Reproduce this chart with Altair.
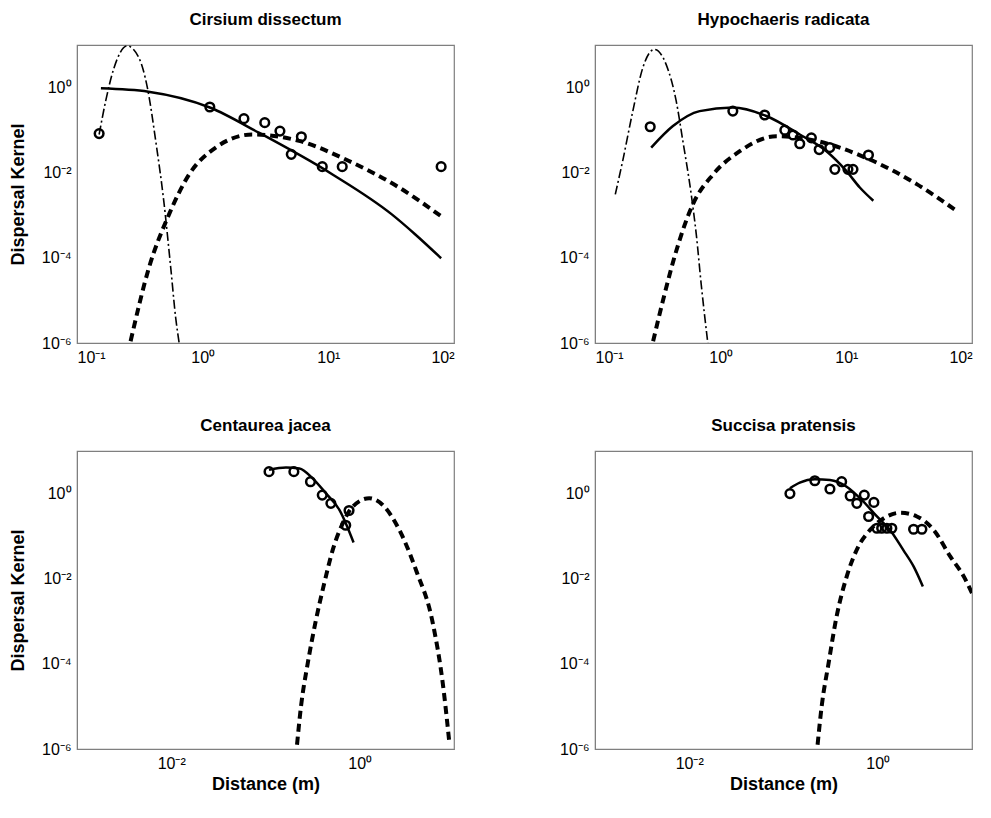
import altair as alt
import pandas as pd

# ---- Cirsium dissectum ----
cd_obs_x = [0.15, 1.14, 2.13, 3.12, 4.12, 6.1, 5.07, 8.95, 12.9, 79]
cd_obs_y = [0.083, 0.35, 0.186, 0.15, 0.095, 0.070, 0.027, 0.0139, 0.0139, 0.0139]
cd_solid_x = [0.155, 0.37, 1.14, 2.8, 10.8, 32, 49.5, 79]
cd_solid_y = [0.96, 0.80, 0.34, 0.087, 0.0091, 0.00105, 3.5e-4, 9.8e-5]
cd_dash_x = [0.267, 0.374, 0.54, 0.78, 1.27, 2.48, 5.85, 14.6, 36.5, 79]
cd_dash_y = [1.1e-6, 5.9e-5, 1.05e-3, 9.1e-3, 0.039, 0.079, 0.056, 0.0188, 0.0045, 9.5e-4]
cd_dd_x = [0.15, 0.169, 0.197, 0.251, 0.311, 0.363, 0.423, 0.49, 0.557, 0.61, 0.65]
cd_dd_y = [0.079, 0.48, 2.9, 9.5, 5.0, 1.0, 0.056, 2.2e-3, 5.9e-5, 3.9e-6, 1e-6]

# ---- Hypochaeris radicata ----
hr_obs_x = [0.275, 1.25, 2.24, 3.24, 3.77, 4.26, 5.27, 6.08, 7.38, 8.1, 10.3, 11.3, 15]
hr_obs_y = [0.12, 0.28, 0.227, 0.10, 0.077, 0.048, 0.066, 0.035, 0.039, 0.012, 0.012, 0.012, 0.026]
hr_solid_x = [0.28, 0.417, 0.68, 1.25, 2.31, 4.26, 6.95, 10, 12.8, 16.4]
hr_solid_y = [0.039, 0.125, 0.28, 0.34, 0.215, 0.079, 0.032, 0.011, 0.0045, 0.0022]
hr_dash_x = [0.29, 0.347, 0.443, 0.60, 0.87, 1.42, 2.77, 5.78, 14.5, 36.3, 75.7]
hr_dash_y = [1.1e-6, 9.8e-6, 1.45e-4, 1.8e-3, 9.1e-3, 0.032, 0.072, 0.056, 0.022, 0.0054, 0.00126]
hr_dd_x = [0.145, 0.166, 0.20, 0.24, 0.297, 0.368, 0.443, 0.50, 0.583, 0.64, 0.70, 0.79]
hr_dd_y = [0.0031, 0.0188, 0.28, 2.9, 7.9, 3.5, 0.48, 0.056, 0.0031, 3.5e-4, 2.4e-5, 1e-6]

# ---- Centaurea jacea ----
cj_obs_x = [0.109, 0.20, 0.30, 0.40, 0.494, 0.77, 0.71]
cj_obs_y = [3.27, 3.27, 1.9, 0.92, 0.59, 0.40, 0.18]
cj_solid_x = [0.109, 0.165, 0.229, 0.316, 0.44, 0.61, 0.86]
cj_solid_y = [3.6, 4.1, 3.9, 2.28, 1.0, 0.41, 0.071]
cj_dash_x = [0.216, 0.238, 0.28, 0.343, 0.42, 0.516, 0.66, 0.84, 1.26, 1.75, 2.63, 3.96, 5.96, 7.6, 8.97]
cj_dash_y = [1.26e-6, 1e-5, 1.0e-4, 1.07e-3, 7.8e-3, 0.047, 0.20, 0.49, 0.78, 0.54, 0.14, 0.0158, 9e-4, 3.5e-5, 1.26e-6]

# ---- Succisa pratensis ----
sp_obs_x = [0.117, 0.215, 0.311, 0.414, 0.51, 0.60, 0.72, 0.91, 0.80, 0.98, 1.10, 1.25, 1.41, 2.40, 2.94]
sp_obs_y = [1.0, 2.0, 1.28, 1.9, 0.88, 0.59, 0.92, 0.62, 0.29, 0.153, 0.153, 0.153, 0.153, 0.145, 0.145]
sp_solid_x = [0.117, 0.149, 0.215, 0.311, 0.468, 0.705, 0.98, 1.35, 1.87, 2.40, 3.01]
sp_solid_y = [1.33, 1.8, 2.16, 2.08, 1.45, 0.645, 0.29, 0.14, 0.047, 0.0195, 0.0066]
sp_dash_x = [0.23, 0.254, 0.30, 0.366, 0.468, 0.62, 0.83, 1.15, 1.73, 2.6, 3.92, 5.9, 8.2, 10]
sp_dash_y = [1.26e-6, 1e-5, 1e-4, 1.3e-3, 0.0112, 0.056, 0.14, 0.26, 0.355, 0.29, 0.14, 0.033, 0.0112, 0.0046]

FONT = "Liberation Sans"
SUP = {"-": "\u207b", "0": "\u2070", "1": "\u00b9", "2": "\u00b2", "3": "\u00b3", "4": "\u2074",
       "5": "\u2075", "6": "\u2076"}


def label_expr(exps):
    e = "''"
    for k in exps:
        s = "10" + "".join(SUP[c] for c in str(k))
        e = f"abs(log(datum.value)/LN10 - ({k})) < 0.01 ? '{s}' : ({e})"
    return e


def frame(x, y, name):
    return pd.DataFrame({"x": x, "y": y, "s": name, "i": range(len(x))})


def panel(title, obs, solid, dash, dd, xdom, xexps, left, bottom):
    parts = [frame(*solid, "solid"), frame(*dash, "dash")]
    if dd:
        parts.append(frame(*dd, "dd"))
    lines = pd.concat(parts)
    pts = frame(*obs, "obs")
    xs = alt.Scale(type="log", domain=xdom)
    ys = alt.Scale(type="log", domain=[1e-6, 10])
    xa = alt.Axis(values=[10.0 ** k for k in xexps], labelExpr=label_expr(xexps), ticks=False,
                  grid=False, title="Distance (m)" if bottom else None, labelPadding=6)
    ya = alt.Axis(values=[1e-6, 1e-4, 1e-2, 1], labelExpr=label_expr([-6, -4, -2, 0]), ticks=False,
                  grid=False, title="Dispersal Kernel" if left else None,
                  minExtent=44, maxExtent=44, labelPadding=6, titlePadding=6)
    X = alt.X("x:Q", scale=xs, axis=xa)
    Y = alt.Y("y:Q", scale=ys, axis=ya)
    layers = []
    styles = {"solid": (2.5, []), "dash": (4, [8, 5]), "dd": (1.6, [9, 3, 2, 3])}
    for name, (w, d) in styles.items():
        sub = lines[lines.s == name]
        if len(sub) == 0:
            continue
        kw = dict(color="black", strokeWidth=w, clip=True, interpolate="monotone")
        if d:
            kw["strokeDash"] = d
        layers.append(alt.Chart(sub).mark_line(**kw).encode(X, Y, order="i:Q"))
    layers.append(alt.Chart(pts).mark_point(shape="circle", filled=False, color="black",
                                            strokeWidth=2.5, size=75, opacity=1, clip=True).encode(X, Y))
    return alt.layer(*layers).properties(width=377, height=298, title=title)


top_dom = [0.1, 100]
bot_dom = [0.001, 10]
p1 = panel("Cirsium dissectum", (cd_obs_x, cd_obs_y), (cd_solid_x, cd_solid_y),
           (cd_dash_x, cd_dash_y), (cd_dd_x, cd_dd_y), top_dom, [-1, 0, 1, 2], True, False)
p2 = panel("Hypochaeris radicata", (hr_obs_x, hr_obs_y), (hr_solid_x, hr_solid_y),
           (hr_dash_x, hr_dash_y), (hr_dd_x, hr_dd_y), top_dom, [-1, 0, 1, 2], False, False)
p3 = panel("Centaurea jacea", (cj_obs_x, cj_obs_y), (cj_solid_x, cj_solid_y),
           (cj_dash_x, cj_dash_y), None, bot_dom, [-2, 0], True, True)
p4 = panel("Succisa pratensis", (sp_obs_x, sp_obs_y), (sp_solid_x, sp_solid_y),
           (sp_dash_x, sp_dash_y), None, bot_dom, [-2, 0], False, True)

chart = alt.vconcat(
    alt.hconcat(p1, p2, spacing=95),
    alt.hconcat(p3, p4, spacing=95),
    spacing=50,
).properties(
    padding={"left": 0, "top": 2, "right": 5, "bottom": 5}
).configure_view(stroke="#7f7f7f", strokeWidth=1.2).configure_axis(
    domainColor="#7f7f7f", labelFont=FONT, labelFontSize=16, labelColor="black",
    titleFont=FONT, titleFontSize=18, titleFontWeight="bold", titleColor="black",
).configure_title(font=FONT, fontSize=17, fontWeight="bold", offset=16)

chart.save("out.html", embed_options={"renderer": "svg", "actions": False})
